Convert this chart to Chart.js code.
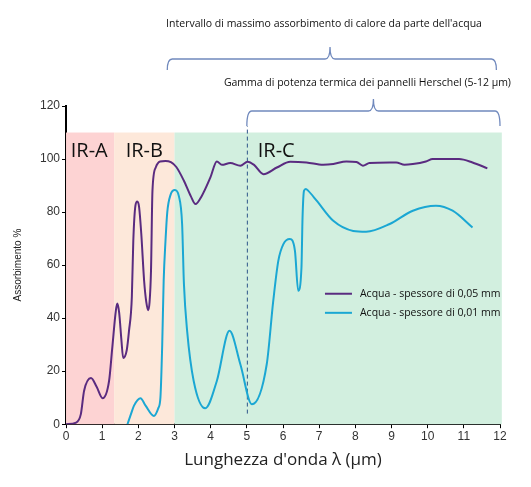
<!DOCTYPE html>
<html>
<head>
<meta charset="utf-8">
<script src="https://cdn.jsdelivr.net/npm/chart.js@4"></script>
<style>
  body { margin: 0; background: #fff; }
  #wrap { width: 531px; height: 487px; }
</style>
</head>
<body>
<div id="wrap"><canvas id="absChart" width="531" height="487"></canvas></div>
<script>
// Acqua - spessore di 0,05 mm
const thickX = [0, 0.28, 0.41, 0.5, 0.69, 0.85, 1.01, 1.19, 1.28, 1.38, 1.42, 1.47, 1.53, 1.58, 1.68, 1.74, 1.82, 1.86, 1.92, 1.97, 2.02, 2.08, 2.16, 2.22, 2.27, 2.31, 2.35, 2.39, 2.48, 2.6, 2.75, 2.9, 3.05, 3.26, 3.45, 3.58, 3.75, 3.99, 4.17, 4.31, 4.54, 4.82, 5.02, 5.2, 5.46, 5.83, 6.2, 6.65, 7.11, 7.39, 7.75, 8.03, 8.21, 8.39, 8.95, 9.13, 9.36, 9.59, 9.95, 10.14, 10.87, 11.24, 11.65];
const thickY = [0, 0.6, 3.8, 12.6, 17.4, 14, 9.8, 16.3, 29, 43, 45.5, 42, 32, 25, 28, 35, 48, 69, 82.5, 84, 82, 72, 54, 46, 43, 46, 58, 88, 96.8, 99.1, 99.3, 98.8, 97, 91.8, 86, 83, 86, 93, 99.1, 97.8, 98.5, 97.5, 99, 97.8, 94.3, 96.8, 99, 98.7, 97.8, 98.1, 99.1, 98.9, 97.5, 98.5, 98.7, 98.7, 97.8, 98.1, 99.1, 100, 100, 98.7, 96.5];

// Acqua - spessore di 0,01 mm
const thinX = [1.7, 1.8, 1.88, 2.06, 2.2, 2.43, 2.55, 2.61, 2.66, 2.7, 2.75, 2.8, 2.89, 3.01, 3.12, 3.21, 3.26, 3.35, 3.53, 3.85, 4.17, 4.52, 4.82, 5.14, 5.55, 5.73, 5.87, 6.01, 6.19, 6.33, 6.42, 6.51, 6.54, 6.58, 6.63, 6.7, 6.93, 7.39, 7.94, 8.3, 8.95, 9.59, 10.23, 10.69, 11.24];
const thinY = [0, 4, 7, 9.8, 7, 3.1, 6, 10, 30, 54, 69, 80, 86.5, 88.3, 86, 75.5, 53, 35, 16.3, 6, 16.3, 35.2, 22.6, 7.5, 22.6, 46.5, 61.6, 67.9, 69.8, 65.4, 50.3, 59, 78, 88, 88.7, 88, 84.3, 76.7, 72.9, 72.6, 75.5, 80.5, 82.4, 80.5, 74.2];

const seriesLabels = ['Acqua - spessore di 0,05 mm', 'Acqua - spessore di 0,01 mm'];

// IR bands
const bandLabels = ['IR-A', 'IR-B', 'IR-C'];
const bandStart = [0, 1.33, 3];
const bandEnd = [1.33, 3, 12.05];
const bandLabelX = [0.13, 1.65, 5.3];
const bandTop = 110;

// brackets above the chart
const bracketText = ["Intervallo di massimo assorbimento di calore da parte dell'acqua", 'Gamma di potenza termica dei pannelli Herschel (5-12 µm)'];
const bracketFrom = [2.8, 5];
const bracketTo = [11.9, 12];
const bracketTip = [7.3, 8.5];
const hersLine = 5;

const xTicks = [0, 1, 2, 3, 4, 5, 6, 7, 8, 9, 10, 11, 12];
const yTicks = [0, 20, 40, 60, 80, 100, 120];

const toPoints = (xs, ys) => xs.map((x, i) => ({ x: x, y: ys[i] }));

const bandColors = ['#fdd3d3', '#fde8da', '#d2efdf'];
const lineColors = ['#5a2b80', '#1ba7d3'];
const bracketColor = '#7089bd';

const decorPlugin = {
    id: 'decor',
    beforeDatasetsDraw(chart) {
        const { ctx, scales: { x, y } } = chart;
        ctx.save();
        for (let i = 0; i < bandLabels.length; i++) {
            const x0 = x.getPixelForValue(bandStart[i]);
            const x1 = x.getPixelForValue(bandEnd[i]);
            const yt = y.getPixelForValue(bandTop);
            const yb = y.getPixelForValue(0);
            ctx.fillStyle = bandColors[i];
            ctx.fillRect(x0, yt, x1 - x0, yb - yt);
        }
        ctx.fillStyle = '#111';
        ctx.font = '20px "Open Sans"';
        ctx.textBaseline = 'alphabetic';
        for (let i = 0; i < bandLabels.length; i++) {
            ctx.fillText(bandLabels[i], x.getPixelForValue(bandLabelX[i]), y.getPixelForValue(bandTop) + 24);
        }
        // dashed line at 5 µm
        const dx = x.getPixelForValue(hersLine);
        ctx.strokeStyle = '#2e5489';
        ctx.lineWidth = 1;
        ctx.setLineDash([4, 3]);
        ctx.beginPath();
        ctx.moveTo(dx + 0.5, y.getPixelForValue(4));
        ctx.lineTo(dx + 0.5, y.top + 20);
        ctx.stroke();
        ctx.restore();
    },
    afterDraw(chart) {
        const { ctx, scales: { x, y } } = chart;
        ctx.save();
        // brackets
        const lvl = [y.top - 47, y.top + 5];
        const drop = [11, 15];
        const textUp = [35, 28];
        for (let i = 0; i < bracketText.length; i++) {
            const x0 = x.getPixelForValue(bracketFrom[i]);
            const x1 = x.getPixelForValue(bracketTo[i]);
            const xm = x.getPixelForValue(bracketTip[i]);
            const yh = lvl[i];
            ctx.strokeStyle = bracketColor;
            ctx.lineWidth = 1.3;
            ctx.beginPath();
            ctx.moveTo(x0, yh + drop[i]);
            ctx.quadraticCurveTo(x0, yh, x0 + 5, yh);
            ctx.lineTo(xm - 5, yh);
            ctx.quadraticCurveTo(xm, yh, xm, yh - 12);
            ctx.quadraticCurveTo(xm, yh, xm + 5, yh);
            ctx.lineTo(x1 - 5, yh);
            ctx.quadraticCurveTo(x1, yh, x1, yh + drop[i]);
            ctx.stroke();
            ctx.fillStyle = '#111';
            ctx.font = '10.5px "Open Sans"';
            ctx.textAlign = 'center';
            ctx.textBaseline = 'middle';
            ctx.fillText(bracketText[i], xm - 6, yh - textUp[i]);
        }
        // legend
        const lx = x.getPixelForValue(7.16);
        const ly = [y.getPixelForValue(49.2), y.getPixelForValue(42)];
        ctx.textAlign = 'left';
        ctx.font = '10.5px "Open Sans"';
        for (let i = 0; i < seriesLabels.length; i++) {
            ctx.strokeStyle = lineColors[i];
            ctx.lineWidth = 2;
            ctx.beginPath();
            ctx.moveTo(lx, ly[i]);
            ctx.lineTo(lx + 27, ly[i]);
            ctx.stroke();
            ctx.fillStyle = '#111';
            ctx.fillText(seriesLabels[i], lx + 35, ly[i]);
        }
        ctx.restore();
    }
};

new Chart(document.getElementById('absChart').getContext('2d'), {
    type: 'line',
    data: {
        datasets: [
            { label: seriesLabels[0], data: toPoints(thickX, thickY), borderColor: lineColors[0], borderWidth: 2, pointRadius: 0, fill: false, cubicInterpolationMode: 'monotone' },
            { label: seriesLabels[1], data: toPoints(thinX, thinY), borderColor: lineColors[1], borderWidth: 2, pointRadius: 0, fill: false, cubicInterpolationMode: 'monotone' }
        ]
    },
    options: {
        responsive: false,
        animation: false,
        layout: { padding: { top: 106, right: 31, bottom: 13, left: 8 } },
        plugins: { legend: { display: false }, tooltip: { enabled: false } },
        scales: {
            x: {
                type: 'linear', min: 0, max: 12,
                afterBuildTicks: (s) => { s.ticks = xTicks.map(v => ({ value: v })); },
                ticks: { color: '#333', font: { family: 'Liberation Sans', size: 12 }, padding: 1 },
                grid: { drawOnChartArea: false, drawTicks: true, tickLength: 4, color: '#000' },
                border: { color: '#000', width: 2 },
                title: { display: true, text: "Lunghezza d'onda λ (µm)", color: '#222', font: { family: 'Open Sans', size: 17 }, padding: { top: 5 } }
            },
            y: {
                min: 0, max: 120,
                afterBuildTicks: (s) => { s.ticks = yTicks.map(v => ({ value: v })); },
                ticks: { color: '#333', font: { family: 'Liberation Sans', size: 12 }, padding: 2 },
                grid: { drawOnChartArea: false, drawTicks: true, tickLength: 4, color: '#000' },
                border: { color: '#000', width: 2 },
                title: { display: true, text: 'Assorbimento %', color: '#222', font: { family: 'Liberation Sans', size: 10 }, padding: { bottom: 14 } }
            }
        }
    },
    plugins: [decorPlugin]
});
</script>
</body>
</html>
